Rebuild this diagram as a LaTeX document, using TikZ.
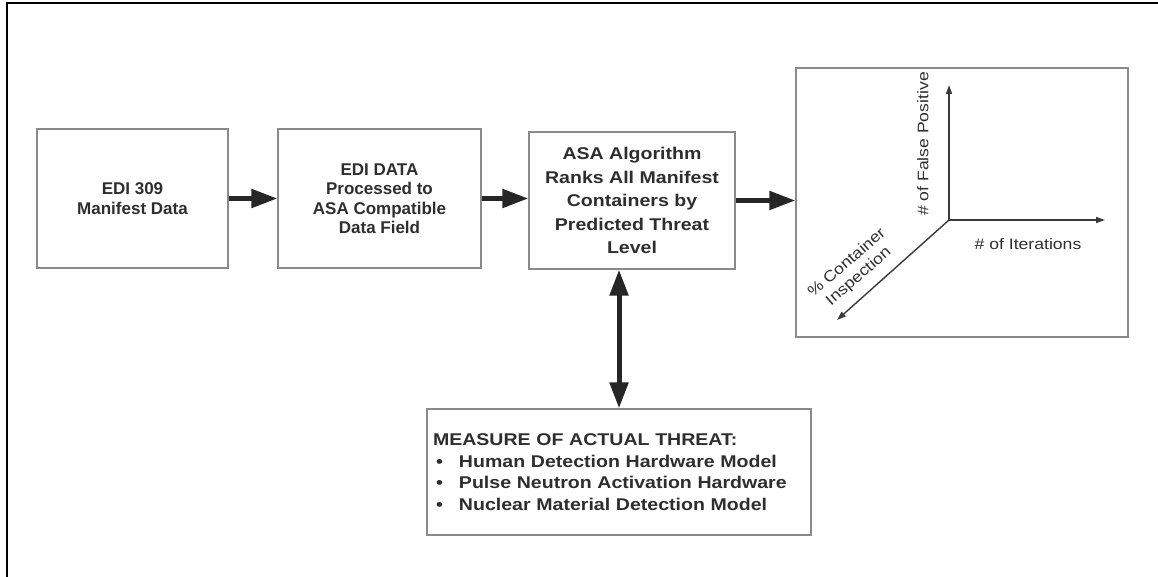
\documentclass[tikz,border=0pt]{standalone}
\usepackage{fontspec}
\setmainfont{Liberation Sans}
\newfontfamily\widesans[FakeStretch=1.15]{Liberation Sans}
\usetikzlibrary{arrows.meta}

\definecolor{boxline}{HTML}{8A8A8A}
\definecolor{inkgray}{HTML}{2E2E2E}
\definecolor{arrowink}{HTML}{262626}
\definecolor{axisink}{HTML}{3A3A3A}

\newcommand{\bitem}{\makebox[26pt][l]{\hspace{3pt}\textbullet}}

\begin{document}
\begin{tikzpicture}[x=1pt,y=-1pt]
                        \tikzstyle{stage}=[draw=boxline, line width=1.2pt, text=inkgray, align=center, inner sep=0pt, font=\bfseries\fontsize{17}{19.5}\selectfont]
                        \tikzstyle{flow}=[draw=arrowink, line width=5pt, -{Triangle[length=26pt,width=18pt]}]
                        \tikzstyle{axis}=[draw=axisink, line width=1.4pt, -{Triangle[length=9pt,width=6pt]}]
                        \tikzstyle{axislabel}=[text=inkgray, inner sep=0pt, font=\widesans\fontsize{15.3}{18}\selectfont]

                        \useasboundingbox (0,0) rectangle (1158,577);
                        \draw[line width=2.5pt] (7,577) -- (7,3) -- (1158,3);

                        % process boxes
                        \node[stage, minimum width=191pt, minimum height=139pt] (edi) at (132.5,198.5) {EDI 309\\Manifest Data};
                        \node[stage, minimum width=203pt, minimum height=139pt] (proc) at (379.5,198.5) {EDI DATA\\Processed to\\ASA Compatible\\Data Field};
                        \node[stage, minimum width=206pt, minimum height=137pt, font=\widesans\bfseries\fontsize{17}{23.5}\selectfont] (asa) at (632,200.5) {ASA Algorithm\\Ranks All Manifest\\Containers by\\Predicted Threat\\Level};
                        \node[stage, minimum width=332pt, minimum height=269pt] (plot) at (962,202.5) {};
                        \node[stage, minimum height=126pt, text width=372pt, inner xsep=6pt, align=left, font=\widesans\bfseries\fontsize{17}{21.7}\selectfont] (threat) at (619,472) {MEASURE OF ACTUAL THREAT:\\
                            \bitem Human Detection Hardware Model\\
                            \bitem Pulse Neutron Activation Hardware\\
                            \bitem Nuclear Material Detection Model};

                        % flow arrows
                        \draw[flow] (edi.east) -- (proc.west);
                        \draw[flow] (proc.east) -- (asa.west |- proc.east);
                        \draw[flow] (asa.east) -- (asa.east -| plot.west);
                        \draw[flow, {Triangle[length=26pt,width=18pt]}-{Triangle[length=26pt,width=18pt]}] (threat.north) -- (threat.north |- asa.south);

                        % axes
                        \coordinate (origin) at (949,220);
                        \coordinate (ytop) at (949,85);
                        \coordinate (xend) at (1105,220);
                        \coordinate (zend) at (837,320);
                        \draw[axis] (origin) -- (ytop);
                        \draw[axis] (origin) -- (xend);
                        \draw[axis] (origin) -- (zend);
                        \node[axislabel, rotate=90] (falsepos) at (923,144) {\# of False Positive};
                        \node[axislabel] (iter) at (1028,244) {\# of Iterations};
                        \node[axislabel, rotate=41, align=center] (insp) at (853,270) {\% Container\\Inspection};
                    \end{tikzpicture}
\end{document}
